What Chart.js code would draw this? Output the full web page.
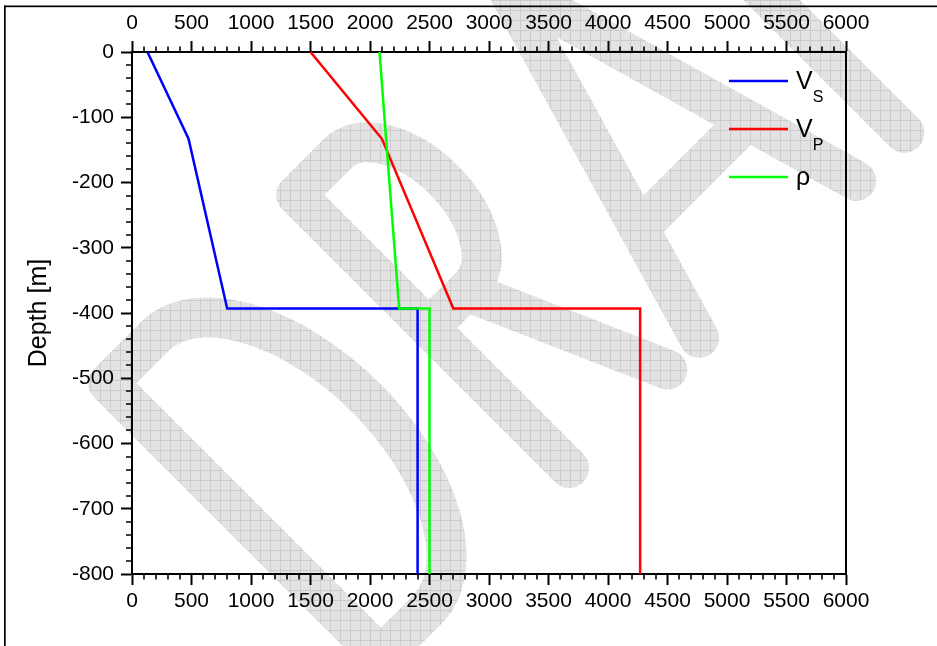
<!DOCTYPE html>
<html>
<head>
<meta charset="utf-8">
<title>Velocity profile</title>
<script src="https://cdn.jsdelivr.net/npm/chart.js@4.4.0/dist/chart.umd.min.js"></script>
<style>
  body { margin: 0; background: #fff; }
  canvas { display: block; }
</style>
</head>
<body>
<canvas id="profile" width="937" height="646"></canvas>
<script>
// layer model: depth of each knot (m) and the value at that knot
const depth = [0, -133, -393, -393, -800];
const vs  = [130, 475, 800, 2400, 2400];    // m/s
const vp  = [1500, 2100, 2700, 4270, 4270]; // m/s
const rho = [2080, 2135, 2245, 2500, 2500]; // kg/m3

const seriesSymbol = ['V', 'V', 'ρ'];
const seriesSub = ['S', 'P', ''];
const seriesColor = ['#0000ff', '#ff0000', '#00ff00'];

const xTicks = [0, 500, 1000, 1500, 2000, 2500, 3000, 3500, 4000, 4500, 5000, 5500, 6000];
const yTicks = [0, -100, -200, -300, -400, -500, -600, -700, -800];
const xMinorStep = 100;
const yMinorStep = 20;

const FONT = "'Liberation Sans', Arial, Helvetica, sans-serif";
Chart.defaults.color = '#000';

const pts = vals => vals.map((v, i) => ({ x: v, y: depth[i] }));

// small tile for the hatched stamp fill
function stampTile() {
  const c = document.createElement('canvas');
  c.width = c.height = 10;
  const g = c.getContext('2d');
  g.fillStyle = '#e3e3e3';
  g.fillRect(0, 0, 10, 10);
  g.fillStyle = '#cccccc';
  g.fillRect(0, 0, 10, 1);
  g.fillRect(0, 0, 1, 10);
  return c;
}

// stroke font "DRAFT", baseline at y=0, cap height H (y up is negative)
const H = 386;
function draftPath(ctx) {
  // D
  ctx.moveTo(0, 0);
  ctx.lineTo(0, -H);
  ctx.lineTo(65, -H);
  ctx.ellipse(65, -H / 2, 107, H / 2, 0, -Math.PI / 2, Math.PI / 2);
  ctx.closePath();
  // R
  ctx.moveTo(266, 0);
  ctx.lineTo(266, -H);
  ctx.lineTo(325, -H);
  ctx.ellipse(325, -292, 56, 94, 0, -Math.PI / 2, Math.PI / 2);
  ctx.lineTo(266, -198);
  ctx.moveTo(318, -198);
  ctx.lineTo(405, 0);
  // A
  ctx.moveTo(450, 0);
  ctx.lineTo(562, -H);
  ctx.lineTo(672, 0);
  ctx.moveTo(486, -120);
  ctx.lineTo(638, -120);
  // F
  ctx.moveTo(740, 0);
  ctx.lineTo(740, -H);
  ctx.lineTo(900, -H);
  ctx.moveTo(740, -205);
  ctx.lineTo(870, -205);
  // T
  ctx.moveTo(960, -H);
  ctx.lineTo(1160, -H);
  ctx.moveTo(1060, -H);
  ctx.lineTo(1060, 0);
}

const draftStamp = {
  id: 'draftStamp',
  beforeDraw(chart) {
    const ctx = chart.ctx;
    ctx.save();
    ctx.fillStyle = '#fff';
    ctx.fillRect(0, 0, chart.width, chart.height);

    ctx.save();
    ctx.translate(381, 656);
    ctx.rotate(-Math.PI / 4);
    ctx.beginPath();
    draftPath(ctx);
    ctx.restore();
    ctx.lineWidth = 40;
    ctx.lineCap = 'round';
    ctx.lineJoin = 'round';
    ctx.strokeStyle = ctx.createPattern(stampTile(), 'repeat');
    ctx.stroke();

    // figure frame (top and left edges)
    ctx.fillStyle = '#000';
    ctx.fillRect(4, 5.5, chart.width - 4, 1.7);
    ctx.fillRect(4, 5.5, 1.7, chart.height);
    ctx.restore();
  }
};

// minor ticks between the labelled ones
const minorTicks = {
  id: 'minorTicks',
  afterDraw(chart) {
    const { ctx, chartArea: a, scales } = chart;
    ctx.save();
    ctx.strokeStyle = '#000';
    ctx.lineWidth = 1.6;
    ctx.beginPath();
    for (let v = scales.x.min; v <= scales.x.max; v += xMinorStep) {
      if (xTicks.includes(v)) continue;
      const px = Math.round(scales.x.getPixelForValue(v));
      ctx.moveTo(px, a.bottom);
      ctx.lineTo(px, a.bottom + 5.5);
      ctx.moveTo(px, a.top);
      ctx.lineTo(px, a.top - 5.5);
    }
    for (let v = scales.y.min; v <= scales.y.max; v += yMinorStep) {
      if (yTicks.includes(v)) continue;
      const py = Math.round(scales.y.getPixelForValue(v));
      ctx.moveTo(a.left, py);
      ctx.lineTo(a.left - 6, py);
    }
    ctx.stroke();
    ctx.restore();
  }
};

// legend with subscripted symbols
const seriesKey = {
  id: 'seriesKey',
  afterDatasetsDraw(chart) {
    const { ctx, chartArea: a } = chart;
    ctx.save();
    seriesSymbol.forEach((sym, i) => {
      const y = a.top + 29 + i * 48;
      ctx.strokeStyle = seriesColor[i];
      ctx.lineWidth = 2.5;
      ctx.beginPath();
      ctx.moveTo(a.right - 117, y);
      ctx.lineTo(a.right - 58, y);
      ctx.stroke();
      ctx.fillStyle = '#000';
      ctx.textBaseline = 'alphabetic';
      ctx.textAlign = 'left';
      ctx.font = '25px ' + FONT;
      ctx.fillText(sym, a.right - 50, y + 8);
      if (seriesSub[i]) {
        const w = ctx.measureText(sym).width;
        ctx.font = '16px ' + FONT;
        ctx.fillText(seriesSub[i], a.right - 50 + w, y + 20.5);
      }
    });
    ctx.restore();
  }
};

const axisBorder = { color: '#000', width: 2 };
const majorTicks = { drawOnChartArea: false, drawTicks: true, tickLength: 11, tickWidth: 2, tickColor: '#000' };
const tickFont = { family: FONT, size: 21 };
const setXTicks = s => { s.ticks = xTicks.map(v => ({ value: v })); };
const setYTicks = s => { s.ticks = yTicks.map(v => ({ value: v })); };

new Chart(document.getElementById('profile'), {
  type: 'scatter',
  data: {
    datasets: [
      { label: 'VS', data: pts(vs), borderColor: seriesColor[0], showLine: true, order: 3 },
      { label: 'VP', data: pts(vp), borderColor: seriesColor[1], showLine: true, order: 2 },
      { label: 'ρ', data: pts(rho), borderColor: seriesColor[2], showLine: true, order: 1 }
    ]
  },
  options: {
    responsive: false,
    animation: false,
    devicePixelRatio: 1,
    elements: {
      point: { radius: 0, hoverRadius: 0 },
      line: { borderWidth: 2.5, tension: 0, fill: false }
    },
    layout: { padding: { left: 0, top: 0, right: 91, bottom: 0 } },
    plugins: { legend: { display: false }, tooltip: { enabled: false } },
    scales: {
      x: {
        type: 'linear', position: 'bottom', min: 0, max: 6000,
        border: axisBorder, grid: majorTicks,
        ticks: { font: tickFont, color: '#000', padding: 4, maxRotation: 0, autoSkip: false, callback: v => String(v) },
        afterBuildTicks: setXTicks,
        afterFit: s => { s.height = 72; }
      },
      x2: {
        type: 'linear', position: 'top', min: 0, max: 6000,
        border: axisBorder, grid: majorTicks,
        ticks: { font: tickFont, color: '#000', padding: 5, maxRotation: 0, autoSkip: false, callback: v => String(v) },
        afterBuildTicks: setXTicks,
        afterFit: s => { s.height = 52; }
      },
      y: {
        type: 'linear', position: 'left', min: -800, max: 0,
        border: axisBorder, grid: majorTicks,
        ticks: { font: tickFont, color: '#000', padding: 7, autoSkip: false, callback: v => String(v) },
        afterBuildTicks: setYTicks,
        title: { display: true, text: 'Depth [m]', color: '#000', font: { family: FONT, size: 25 }, padding: { top: 24, bottom: 0 } },
        afterFit: s => { s.width = 132; }
      },
      y2: {
        type: 'linear', position: 'right', min: -800, max: 0,
        border: axisBorder, grid: { display: false },
        ticks: { display: false },
        afterFit: s => { s.width = 0; }
      }
    }
  },
  plugins: [draftStamp, minorTicks, seriesKey]
});
</script>
</body>
</html>
